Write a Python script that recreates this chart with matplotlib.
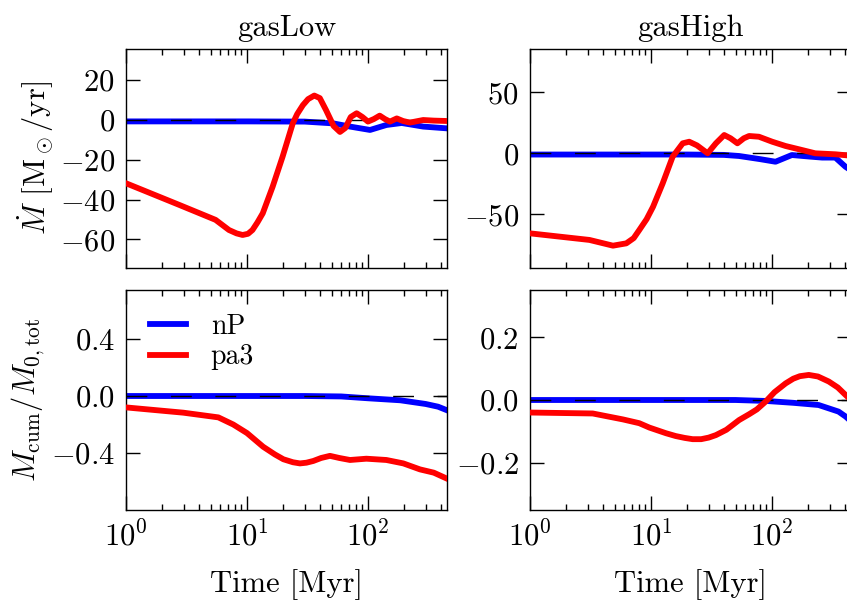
import matplotlib
matplotlib.use("Agg")
import matplotlib.pyplot as plt
from matplotlib.ticker import FixedLocator, FormatStrFormatter, LogLocator, NullFormatter

plt.rcParams.update({
    "font.family": "serif",
    "font.serif": ["cmr10"],
    "mathtext.fontset": "cm",
    "axes.formatter.use_mathtext": True,
    "axes.unicode_minus": False,
    "font.size": 22,
})

# ---------------- data ----------------
col_titles = ["gasLow", "gasHigh"]
series_names = ["nP", "pa3"]
series_colors = ["#0000ff", "#ff0000"]

# gasLow, mass flow rate
t_low_mdot_nP = [1, 10, 30, 51.7, 71, 104, 142, 190, 286, 450]
v_low_mdot_nP = [-0.7, -0.7, -0.8, -1.7, -3.3, -5.0, -2.5, -1.5, -3.3, -4.2]
t_low_mdot_pa3 = [1, 2.76, 5.5, 7.1, 8.2, 9.2, 10.2, 11.1, 12.2, 13.5, 16.3, 19.7, 23.9, 26, 29,
                  32, 36, 40, 45, 52, 58.7, 65, 72, 80.6, 90, 100, 112, 125, 138, 152, 173, 195,
                  222, 286, 350, 450]
v_low_mdot_pa3 = [-31.8, -42.7, -50.2, -55.3, -57.0, -57.8, -57.2, -55.3, -51.5, -46.9, -33.5,
                  -18.4, -1.7, 3.0, 7.5, 10.5, 12.3, 11.0, 5.0, -3.0, -6.0, -4.0, 1.5, 3.4, 1.5,
                  -0.8, 0.5, 2.2, 0.5, -0.8, 0.8, -0.5, -1.3, 0.0, -0.3, -0.5]

# gasHigh, mass flow rate
t_high_mdot_nP = [1, 20, 40, 53.5, 80, 107, 146, 206, 260, 334, 405, 450]
v_high_mdot_nP = [-1, -1, -1.3, -2.2, -4.8, -6.9, -1.4, -2.7, -3.5, -3.5, -11, -14]
t_high_mdot_pa3 = [1, 3.1, 4.85, 6.25, 7.2, 8.0, 9.2, 10.4, 12.5, 15.1, 18.3, 20.7, 24, 29.4,
                   34.4, 40.3, 45.5, 51.8, 58.5, 64.7, 78, 100.5, 129.5, 177, 228, 334, 400, 450]
v_high_mdot_pa3 = [-65.6, -71, -75.7, -73.8, -69.5, -62.9, -54, -43.8, -24.6, -2.8, 8.2, 9.5,
                   6.5, 0, 8.2, 15, 12.3, 8.2, 12.3, 14.2, 13.6, 9.5, 6, 2.7, 0, -0.8, -1.5, -2]

# gasLow, cumulative mass fraction
t_low_cum_nP = [1, 30, 60, 100, 185, 300, 380, 450]
v_low_cum_nP = [0, 0, -0.003, -0.016, -0.03, -0.056, -0.075, -0.1]
t_low_cum_pa3 = [1, 2.98, 5.8, 7.7, 10, 13.6, 17, 20, 24, 27.4, 31, 35.3, 41, 48.5, 58, 71,
                 97, 142, 196, 269, 350, 450]
v_low_cum_pa3 = [-0.08, -0.117, -0.15, -0.2, -0.26, -0.356, -0.41, -0.444, -0.465, -0.473,
                 -0.468, -0.456, -0.435, -0.42, -0.435, -0.449, -0.44, -0.449, -0.473, -0.515,
                 -0.538, -0.58]

# gasHigh, cumulative mass fraction
t_high_cum_nP = [1, 50, 89, 150, 243, 355, 407, 450]
v_high_cum_nP = [0, 0, -0.003, -0.009, -0.016, -0.037, -0.053, -0.068]
t_high_cum_pa3 = [1, 3.3, 5.87, 8, 9.7, 13.3, 16, 19, 22.1, 26, 30, 34.4, 42, 53.5, 65, 75,
                  88.7, 105, 129.7, 150, 170, 201.6, 240, 294.7, 350, 406, 450]
v_high_cum_pa3 = [-0.04, -0.043, -0.062, -0.074, -0.088, -0.106, -0.115, -0.121, -0.125,
                  -0.125, -0.12, -0.112, -0.095, -0.064, -0.045, -0.03, -0.005, 0.025, 0.053,
                  0.068, 0.076, 0.08, 0.075, 0.059, 0.04, 0.016, 0.0]

xlim = (1, 450)
ylims = [[(-74.4, 35.7), (-94, 85.5)], [(-0.8, 0.744), (-0.351, 0.351)]]
yticks = [[[20, 0, -20, -40, -60], [50, 0, -50]], [[0.4, 0.0, -0.4], [0.2, 0.0, -0.2]]]
yfmts = [[r"$%d$", r"$%d$"], [r"$%.1f$", r"$%.1f$"]]
ylabels = [r"$\dot{M}$ [M$_\odot$/yr]", r"$M_{\rm cum}/M_{0,\rm tot}$"]
xlabel = "Time [Myr]"

data = [
    [[(t_low_mdot_nP, v_low_mdot_nP), (t_low_mdot_pa3, v_low_mdot_pa3)],
     [(t_high_mdot_nP, v_high_mdot_nP), (t_high_mdot_pa3, v_high_mdot_pa3)]],
    [[(t_low_cum_nP, v_low_cum_nP), (t_low_cum_pa3, v_low_cum_pa3)],
     [(t_high_cum_nP, v_high_cum_nP), (t_high_cum_pa3, v_high_cum_pa3)]],
]

# ---------------- figure ----------------
W, H = 847, 601
fig = plt.figure(figsize=(W / 100, H / 100), dpi=100)

col_x = [126, 530]
row_y = [(49, 268), (290, 510)]
ax_w = 321

for r in range(2):
    for c in range(2):
        y0, y1 = row_y[r]
        ax = fig.add_axes([col_x[c] / W, 1 - y1 / H, ax_w / W, (y1 - y0) / H])
        (tb, vb), (tr, vr) = data[r][c]
        ax.plot(tb, vb, color=series_colors[0], lw=4.2, label=series_names[0],
                solid_joinstyle="round", zorder=2)
        ax.axhline(0, color="black", lw=1.0, dashes=(15, 17), zorder=3)
        ax.plot(tr, vr, color=series_colors[1], lw=4.2, label=series_names[1],
                solid_joinstyle="round", zorder=4)
        ax.set_xscale("log")
        ax.set_xlim(*xlim)
        ax.set_ylim(*ylims[r][c])
        ax.yaxis.set_major_locator(FixedLocator(yticks[r][c]))
        ax.yaxis.set_major_formatter(FormatStrFormatter(yfmts[r][c]))
        ax.xaxis.set_major_locator(LogLocator(base=10, numticks=10))
        ax.xaxis.set_minor_locator(LogLocator(base=10, subs=range(2, 10), numticks=10))
        ax.xaxis.set_minor_formatter(NullFormatter())
        ax.tick_params(which="both", direction="in", top=True, right=True, width=1.0)
        ax.tick_params(which="major", length=10, pad=8)
        ax.tick_params(which="minor", length=4.5)
        for s in ax.spines.values():
            s.set_linewidth(1.0)
        if r == 0:
            ax.set_title(col_titles[c], fontsize=22, pad=9)
            ax.tick_params(labelbottom=False)
        else:
            ax.set_xlabel(xlabel, labelpad=12)
        if c == 0:
            ax.set_ylabel(ylabels[r], labelpad=3)
        if r == 1 and c == 0:
            ax.legend(loc="upper left", frameon=False, fontsize=20, handlelength=1.3,
                      handletextpad=0.9, labelspacing=0.15, borderaxespad=0.3,
                      borderpad=0.55)

fig.savefig("out.png", dpi=100)
